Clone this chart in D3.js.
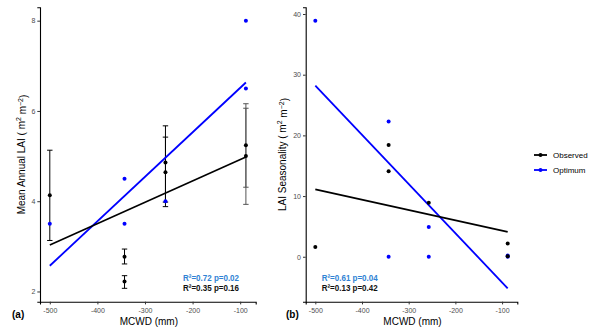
<!DOCTYPE html>
<html><head><meta charset="utf-8">
<script src="https://cdn.jsdelivr.net/npm/d3@7"></script>
<style>
body{margin:0;background:#fff;}
svg{display:block;font-family:"Liberation Sans",Arial,sans-serif;}
</style></head>
<body>
<svg id="chart" width="590" height="335"></svg>
<script>
// ---------- data ----------
const xTicks = [-500, -400, -300, -200, -100];
// Panel (a): mean annual LAI
const obsX = [-500, -343, -343, -257, -257, -88, -88];
const obsLAI = [4.13, 2.77, 2.22, 4.86, 4.64, 5.24, 5.00];
const obsLow = [3.13, 2.61, 2.07, 3.98, 3.88, 4.31, 3.93];
const obsHigh = [5.13, 2.94, 2.35, 5.67, 5.42, 6.16, 6.06];
const optX = [-500, -343, -343, -257, -88, -88];
const optLAI = [3.5, 4.5, 3.5, 4.0, 8.0, 6.5];
const fitX = [-500, -88];
const obsFitLAI = [3.03, 4.98];
const optFitLAI = [2.57, 6.63];
const laiTicks = [2, 4, 6, 8];
// Panel (b): LAI seasonality
const obsSeasX = [-500, -343, -343, -257, -88, -88];
const obsSeas = [1.6, 18.4, 14.1, 8.9, 2.2, 0.1];
const optSeasX = [-500, -343, -343, -257, -257, -88, -88];
const optSeas = [38.9, 22.3, 0, 4.9, 0, 0.2, 0];
const obsFitSeas = [11.1, 4.1];
const optFitSeas = [28.2, -5.2];
const seasTicks = [0, 10, 20, 30, 40];
// stats text
const statsA = ["R²=0.72 p=0.02", "R²=0.35 p=0.16"];
const statsB = ["R²=0.61 p=0.04", "R²=0.13 p=0.42"];
const legendLabels = ["Observed", "Optimum"];

const OBS = "#000000", OPT = "#0000FF", STAT_BLUE = "#2F82D4";

function expand(ext, f = 0.05) { const r = ext[1] - ext[0]; return [ext[0] - r * f, ext[1] + r * f]; }
const fmt = d => String(d);

const svg = d3.select("#chart");
const plotTop = 7.3, plotBottom = 301.7;

function panel(cfg) {
  const x = d3.scaleLinear().domain(expand(d3.extent(cfg.allX))).range([cfg.x0, cfg.x1]);
  const y = d3.scaleLinear().domain(expand(d3.extent(cfg.allY))).range([plotBottom, plotTop]);
  const g = svg.append("g");

  // axes
  const xa = g.append("g").attr("transform", `translate(0,${plotBottom})`)
    .call(d3.axisBottom(x).tickValues(xTicks).tickFormat(fmt).tickSize(2.7).tickPadding(2));
  const ya = g.append("g").attr("transform", `translate(${cfg.x0},0)`)
    .call(d3.axisLeft(y).tickValues(cfg.yTicks).tickFormat(fmt).tickSize(2.7).tickPadding(2));
  [xa, ya].forEach(a => {
    a.select(".domain").attr("stroke", "#000").attr("stroke-width", 1.1);
    a.selectAll(".tick line").attr("stroke", "#333").attr("stroke-width", 1);
    a.selectAll(".tick text").attr("fill", "#4D4D4D").style("font-size", "7px");
  });
  xa.selectAll(".tick text").attr("dy", "0.9em");

  // error bars
  if (cfg.err) {
    const eg = g.append("g");
    cfg.err.x.forEach((xv, i) => {
      const cx = x(xv);
      const col = xv > -150 ? "#555" : "#000";
      eg.append("line").attr("x1", cx).attr("x2", cx).attr("y1", y(cfg.err.lo[i])).attr("y2", y(cfg.err.hi[i]))
        .attr("stroke", col).attr("stroke-width", 1);
      [cfg.err.lo[i], cfg.err.hi[i]].forEach(v => {
        eg.append("line").attr("x1", cx - 2.7).attr("x2", cx + 2.7).attr("y1", y(v)).attr("y2", y(v))
          .attr("stroke", col).attr("stroke-width", 1);
      });
    });
  }

  // fit lines
  const line = d3.line().x(d => x(d[0])).y(d => y(d[1]));
  g.append("path").datum(fitX.map((v, i) => [v, cfg.optFit[i]]))
    .attr("d", line).attr("stroke", OPT).attr("stroke-width", 1.8).attr("fill", "none");
  g.append("path").datum(fitX.map((v, i) => [v, cfg.obsFit[i]]))
    .attr("d", line).attr("stroke", OBS).attr("stroke-width", 1.6).attr("fill", "none");

  // points
  g.append("g").selectAll("circle").data(cfg.optX.map((v, i) => [v, cfg.optY[i]])).join("circle")
    .attr("cx", d => x(d[0])).attr("cy", d => y(d[1])).attr("r", 2).attr("fill", OPT);
  g.append("g").selectAll("circle").data(cfg.obsX.map((v, i) => [v, cfg.obsY[i]])).join("circle")
    .attr("cx", d => x(d[0])).attr("cy", d => y(d[1])).attr("r", 2).attr("fill", OBS);

  // stats text
  cfg.stats.forEach((t, i) => {
    g.append("text").attr("x", cfg.statX).attr("y", 280.7 + i * 10.6)
      .attr("fill", i === 0 ? STAT_BLUE : "#111")
      .attr("font-weight", "bold").style("font-size", "9px")
      .attr("textLength", 56).attr("lengthAdjust", "spacingAndGlyphs").text(t);
  });

  // x title
  g.append("text").attr("x", (cfg.x0 + cfg.x1) / 2 + 1).attr("y", 324.5).attr("text-anchor", "middle")
    .style("font-size", "10px").attr("fill", "#000").text("MCWD (mm)");
  // y title
  const yt = g.append("text").attr("transform", `translate(${cfg.ytx},${(plotTop + plotBottom) / 2}) rotate(-90)`)
    .attr("text-anchor", "middle").style("font-size", "10px").attr("fill", "#000");
  yt.append("tspan").text(cfg.yTitle + " ( m");
  yt.append("tspan").attr("dy", "-0.45em").style("font-size", "7px").text("2");
  yt.append("tspan").attr("dy", "0.45em").text(" m");
  yt.append("tspan").attr("dy", "-0.45em").style("font-size", "7px").text("−2");
  yt.append("tspan").attr("dy", "0.45em").text(")");
  // panel tag
  g.append("text").attr("x", cfg.tagX).attr("y", 317.5).style("font-size", "10px")
    .attr("font-weight", "bold").attr("fill", "#000").text(cfg.tag);
}

panel({
  x0: 40, x1: 255.7, ytx: 24.5, tagX: 12, tag: "(a)", statX: 183,
  allX: obsX.concat(optX), allY: obsLow.concat(obsHigh, optLAI, obsFitLAI, optFitLAI),
  yTicks: laiTicks, yTitle: "Mean Annual LAI",
  err: { x: obsX, lo: obsLow, hi: obsHigh },
  obsX: obsX, obsY: obsLAI, optX: optX, optY: optLAI,
  obsFit: obsFitLAI, optFit: optFitLAI, stats: statsA
});
panel({
  x0: 305.7, x1: 517.3, ytx: 285.5, tagX: 286, tag: "(b)", statX: 321.7,
  allX: obsSeasX.concat(optSeasX), allY: obsSeas.concat(optSeas, obsFitSeas, optFitSeas),
  yTicks: seasTicks, yTitle: "LAI Seasonality",
  err: null,
  obsX: obsSeasX, obsY: obsSeas, optX: optSeasX, optY: optSeas,
  obsFit: obsFitSeas, optFit: optFitSeas, stats: statsB
});

// legend
const lg = svg.append("g");
legendLabels.forEach((lab, i) => {
  const yy = 155 + i * 15;
  const col = i === 0 ? OBS : OPT;
  lg.append("line").attr("x1", 534).attr("x2", 547).attr("y1", yy).attr("y2", yy)
    .attr("stroke", col).attr("stroke-width", 1.8);
  lg.append("circle").attr("cx", 540.5).attr("cy", yy).attr("r", 2).attr("fill", col);
  lg.append("text").attr("x", 553).attr("y", yy + 2.9).style("font-size", "8px").attr("fill", "#000").text(lab);
});
</script>
</body></html>
